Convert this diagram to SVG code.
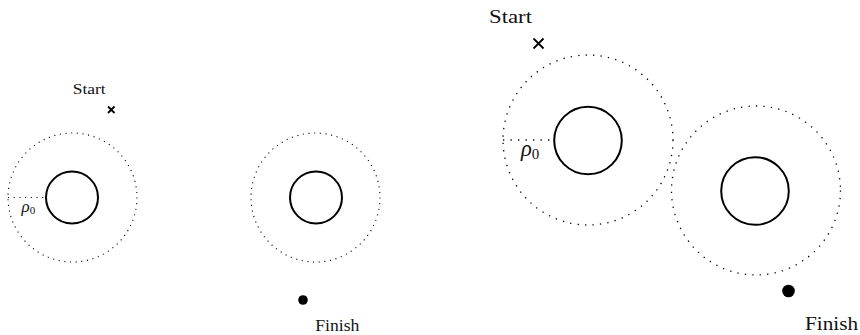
<svg xmlns="http://www.w3.org/2000/svg" width="860" height="335" viewBox="0 0 860 335">
<style>
.solid{fill:none;stroke:#000;stroke-width:2}
.dotL{fill:none;stroke:#000;stroke-width:1.1;stroke-dasharray:1.1 4.6}
.dotR{fill:none;stroke:#000;stroke-width:1.3;stroke-dasharray:1.3 6.2}
.t{font-family:"Liberation Serif","DejaVu Serif",serif;fill:#111}
.cross{stroke:#000;stroke-width:1.8;fill:none}
</style>
<rect width="860" height="335" fill="#fff"/>
<g id="left-obstacle-1">
<circle class="dotL" cx="72.5" cy="197.5" r="64.5"/>
<circle class="solid" cx="72" cy="197.5" r="26"/>
</g>
<g id="left-obstacle-2">
<circle class="dotL" cx="315.5" cy="197.5" r="64.5"/>
<circle class="solid" cx="316" cy="197.5" r="26"/>
</g>
<g id="left-start">
<text class="t" x="72.7" y="93.5" font-size="15" textLength="33" lengthAdjust="spacingAndGlyphs">Start</text>
<path class="cross" d="M108 106.5 L114.5 113 M114.5 106.5 L108 113"/>
</g>
<g id="left-finish">
<circle cx="303" cy="300" r="4.8" fill="#000"/>
<text class="t" x="315.3" y="331" font-size="16" textLength="44" lengthAdjust="spacingAndGlyphs">Finish</text>
</g>
<g id="right-obstacle-1">
<circle class="dotR" cx="588" cy="140" r="85"/>
<circle class="solid" cx="588" cy="140.5" r="33.8" stroke-width="2.6"/>
</g>
<g id="right-obstacle-2">
<circle class="dotR" cx="756" cy="190.5" r="84.5"/>
<circle class="solid" cx="755" cy="191" r="33.8" stroke-width="2.6"/>
</g>
<g id="right-start">
<text class="t" x="489" y="22.7" font-size="19.5" textLength="43" lengthAdjust="spacingAndGlyphs">Start</text>
<path class="cross" stroke-width="2.2" d="M533.5 38.5 L543.5 48.5 M543.5 38.5 L533.5 48.5"/>
</g>
<g id="right-finish">
<circle cx="788.5" cy="291" r="6.3" fill="#000"/>
<text class="t" x="805" y="330" font-size="19.5" textLength="53" lengthAdjust="spacingAndGlyphs">Finish</text>
</g>
<g id="connectors">
<line class="dotL" x1="8" y1="197.5" x2="46" y2="197.5"/>
<text class="t" x="21.5" y="212" font-size="17" font-style="italic">ρ<tspan font-size="11" dy="2" font-style="normal">0</tspan></text>
<line class="dotR" x1="503" y1="140" x2="554" y2="140"/>
<text class="t" x="521" y="156" font-size="22.5" font-style="italic">ρ<tspan font-size="15" dy="2.5" font-style="normal">0</tspan></text>
</g>
</svg>
